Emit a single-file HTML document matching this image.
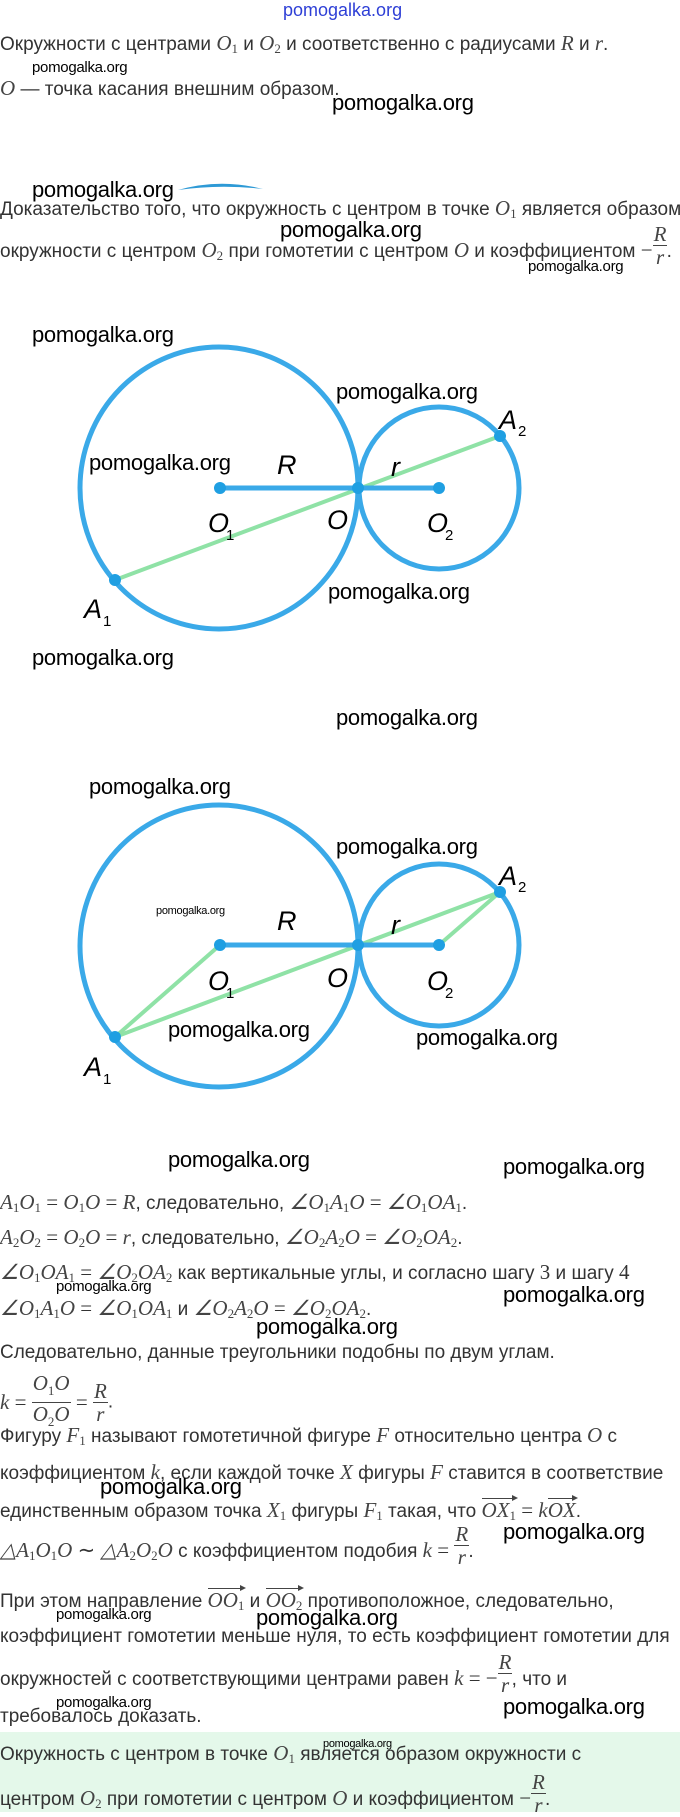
<!DOCTYPE html>
<html><head><meta charset="utf-8">
<style>
body{margin:0;width:680px;height:1812px;background:#fff;position:relative;overflow:hidden;font-family:"Liberation Sans",sans-serif;color:#333}
.t{position:absolute;left:0;white-space:nowrap;font-size:19px;line-height:24px;height:24px}
.m{font-family:"Liberation Serif",serif;font-style:italic;font-size:21px;color:#444}
.m sub{font-style:normal;font-size:13px;vertical-align:-3px}
.n{font-family:"Liberation Serif",serif;font-size:21px}
.w{position:absolute;white-space:nowrap;color:#000;font-family:"Liberation Sans",sans-serif;font-size:22px;line-height:22px;letter-spacing:-0.3px}
.ws{position:absolute;white-space:nowrap;color:#000;font-size:15px;line-height:14px;letter-spacing:-0.3px}
.fr{display:inline-block;vertical-align:middle;text-align:center;font-family:"Liberation Serif",serif;font-style:italic;font-size:21px;line-height:22px;color:#444}
.fr span{display:block}
.fr .top{border-bottom:1px solid #444;padding:0 1px}
.fw{display:inline-block;position:relative;width:14px;height:10px}
.fw .fr{position:absolute;left:0;top:-24px}
.vec{display:inline-block;position:relative;border-top:1px solid #444;padding-top:1px;line-height:20px}
.vec:after{content:"";position:absolute;right:-2px;top:-4px;border-left:6px solid #444;border-top:3.5px solid transparent;border-bottom:3.5px solid transparent}
</style></head><body>
<div style="position:absolute;left:283px;top:0;font-size:18px;color:#2e3fd6;font-family:'Liberation Sans',sans-serif">pomogalka.org</div>

<div class="t" style="top:31px">Окружности с центрами <span class="m">O<sub>1</sub></span> и <span class="m">O<sub>2</sub></span> и соответственно с радиусами <span class="m">R</span> и <span class="m">r</span>.</div>
<div class="ws" style="left:32px;top:61px">pomogalka.org</div>
<div class="t" style="top:76px"><span class="m">O</span> — точка касания внешним образом.</div>
<div class="w" style="left:332px;top:92px">pomogalka.org</div>

<div class="w" style="left:32px;top:179px">pomogalka.org</div>
<svg style="position:absolute;left:0;top:0" width="680" height="1812">
<path d="M178 190 Q220 178 263 189 Q220 184 178 190Z" fill="#2e9ad6"/>
</svg>
<div class="t" style="top:196px">Доказательство того, что окружность с центром в точке <span class="m">O<sub>1</sub></span> является образом</div>
<div class="w" style="left:280px;top:219px">pomogalka.org</div>
<div class="t" style="top:238px">окружности с центром <span class="m">O<sub>2</sub></span> при гомотетии с центром <span class="m">O</span> и коэффициентом <span class="n">−</span><span class="fw"><span class="fr"><span class="top">R</span><span>r</span></span></span>.</div>
<div class="ws" style="left:528px;top:260px">pomogalka.org</div>

<svg style="position:absolute;left:0;top:0" width="680" height="1812" font-family="Liberation Sans" font-style="italic">
<g fill="none" stroke="#3aa9e8" stroke-width="5">
<ellipse cx="219" cy="488" rx="139" ry="141"/>
<ellipse cx="439" cy="488" rx="80" ry="81"/>
</g>
<line x1="115" y1="580" x2="500" y2="436" stroke="#8fe2a6" stroke-width="4"/>
<line x1="220" y1="488" x2="439" y2="488" stroke="#3aa9e8" stroke-width="5"/>
<g fill="#1f9fe2"><circle cx="220" cy="488" r="6"/><circle cx="358" cy="488" r="6"/><circle cx="439" cy="488" r="6"/><circle cx="500" cy="436" r="6"/><circle cx="115" cy="580" r="6"/></g>
<g font-size="27" fill="#000">
<text x="277" y="474">R</text><text x="391" y="476">r</text>
<text x="208" y="532">O</text><text x="226" y="540" font-size="15" font-style="normal">1</text>
<text x="327" y="529">O</text>
<text x="427" y="532">O</text><text x="445" y="540" font-size="15" font-style="normal">2</text>
<text x="84" y="618">A</text><text x="103" y="626" font-size="15" font-style="normal">1</text>
<text x="499" y="429">A</text><text x="518" y="436" font-size="15" font-style="normal">2</text>
</g>

<g fill="none" stroke="#3aa9e8" stroke-width="5">
<ellipse cx="219" cy="946" rx="139" ry="141"/>
<ellipse cx="439" cy="945" rx="80" ry="81"/>
</g>
<g stroke="#8fe2a6" stroke-width="4">
<line x1="115" y1="1037" x2="500" y2="892"/>
<line x1="115" y1="1037" x2="220" y2="945"/>
<line x1="500" y1="892" x2="439" y2="945"/>
</g>
<line x1="220" y1="945" x2="439" y2="945" stroke="#3aa9e8" stroke-width="5"/>
<g fill="#1f9fe2"><circle cx="220" cy="945" r="6"/><circle cx="358" cy="945" r="6"/><circle cx="439" cy="945" r="6"/><circle cx="500" cy="892" r="6"/><circle cx="115" cy="1037" r="6"/></g>
<g font-size="27" fill="#000">
<text x="277" y="930">R</text><text x="391" y="934">r</text>
<text x="208" y="990">O</text><text x="226" y="998" font-size="15" font-style="normal">1</text>
<text x="327" y="987">O</text>
<text x="427" y="990">O</text><text x="445" y="998" font-size="15" font-style="normal">2</text>
<text x="84" y="1076">A</text><text x="103" y="1084" font-size="15" font-style="normal">1</text>
<text x="499" y="885">A</text><text x="518" y="892" font-size="15" font-style="normal">2</text>
</g>
</svg>
<div class="w" style="left:32px;top:324px">pomogalka.org</div>
<div class="w" style="left:336px;top:381px">pomogalka.org</div>
<div class="w" style="left:89px;top:452px">pomogalka.org</div>
<div class="w" style="left:328px;top:581px">pomogalka.org</div>
<div class="w" style="left:32px;top:647px">pomogalka.org</div>
<div class="w" style="left:336px;top:707px">pomogalka.org</div>

<div class="w" style="left:89px;top:776px">pomogalka.org</div>
<div class="w" style="left:336px;top:836px">pomogalka.org</div>
<div class="ws" style="left:156px;top:904px;font-size:11px">pomogalka.org</div>
<div class="w" style="left:168px;top:1019px">pomogalka.org</div>
<div class="w" style="left:416px;top:1027px">pomogalka.org</div>

<div class="w" style="left:168px;top:1149px">pomogalka.org</div>
<div class="w" style="left:503px;top:1156px">pomogalka.org</div>
<div class="t" style="top:1190px"><span class="m">A<sub>1</sub>O<sub>1</sub></span> <span class="n">=</span> <span class="m">O<sub>1</sub>O</span> <span class="n">=</span> <span class="m">R</span>, следовательно, <span class="m">∠O<sub>1</sub>A<sub>1</sub>O</span> <span class="n">=</span> <span class="m">∠O<sub>1</sub>OA<sub>1</sub></span>.</div>
<div class="t" style="top:1225px"><span class="m">A<sub>2</sub>O<sub>2</sub></span> <span class="n">=</span> <span class="m">O<sub>2</sub>O</span> <span class="n">=</span> <span class="m">r</span>, следовательно, <span class="m">∠O<sub>2</sub>A<sub>2</sub>O</span> <span class="n">=</span> <span class="m">∠O<sub>2</sub>OA<sub>2</sub></span>.</div>
<div class="t" style="top:1260px"><span class="m">∠O<sub>1</sub>OA<sub>1</sub></span> <span class="n">=</span> <span class="m">∠O<sub>2</sub>OA<sub>2</sub></span> как вертикальные углы, и согласно шагу <span class="n">3</span> и шагу <span class="n">4</span></div>
<div class="ws" style="left:56px;top:1280px">pomogalka.org</div>
<div class="w" style="left:503px;top:1284px">pomogalka.org</div>
<div class="t" style="top:1296px"><span class="m">∠O<sub>1</sub>A<sub>1</sub>O</span> <span class="n">=</span> <span class="m">∠O<sub>1</sub>OA<sub>1</sub></span> и <span class="m">∠O<sub>2</sub>A<sub>2</sub>O</span> <span class="n">=</span> <span class="m">∠O<sub>2</sub>OA<sub>2</sub></span>.</div>
<div class="w" style="left:256px;top:1316px">pomogalka.org</div>
<div class="t" style="top:1341px">Следовательно, данные треугольники подобны по двум углам.</div>
<div style="position:absolute;left:0;top:1372px;white-space:nowrap;font-size:19px"><span class="m" style="vertical-align:middle">k</span> <span class="n" style="vertical-align:middle">=</span> <div class="fr"><span class="top">O<sub style="font-size:13px;font-style:normal">1</sub>O</span><span>O<sub style="font-size:13px;font-style:normal">2</sub>O</span></div> <span class="n" style="vertical-align:middle">=</span> <div class="fr"><span class="top">R</span><span>r</span></div>.</div>
<div class="t" style="top:1423px">Фигуру <span class="m">F<sub>1</sub></span> называют гомотетичной фигуре <span class="m">F</span> относительно центра <span class="m">O</span> с</div>
<div class="t" style="top:1460px">коэффициентом <span class="m">k</span>, если каждой точке <span class="m">X</span> фигуры <span class="m">F</span> ставится в соответствие</div>
<div class="w" style="left:100px;top:1476px">pomogalka.org</div>
<div class="t" style="top:1498px">единственным образом точка <span class="m">X<sub>1</sub></span> фигуры <span class="m">F<sub>1</sub></span> такая, что <span class="m vec">OX<sub>1</sub></span> <span class="n">=</span> <span class="m">k</span><span class="m vec">OX</span>.</div>
<div class="t" style="top:1538px"><span class="m">△A<sub>1</sub>O<sub>1</sub>O</span> <span class="n">∼</span> <span class="m">△A<sub>2</sub>O<sub>2</sub>O</span> с коэффициентом подобия <span class="m">k</span> <span class="n">=</span> <span class="fw"><span class="fr"><span class="top">R</span><span>r</span></span></span>.</div>
<div class="w" style="left:503px;top:1521px">pomogalka.org</div>
<div class="t" style="top:1588px">При этом направление <span class="m vec">OO<sub>1</sub></span> и <span class="m vec">OO<sub>2</sub></span> противоположное, следовательно,</div>
<div class="ws" style="left:56px;top:1608px">pomogalka.org</div>
<div class="w" style="left:256px;top:1607px">pomogalka.org</div>
<div class="t" style="top:1625px">коэффициент гомотетии меньше нуля, то есть коэффициент гомотетии для</div>
<div class="t" style="top:1666px">окружностей с соответствующими центрами равен <span class="m">k</span> <span class="n">= −</span><span class="fw"><span class="fr"><span class="top">R</span><span>r</span></span></span>, что и</div>
<div class="ws" style="left:56px;top:1696px">pomogalka.org</div>
<div class="w" style="left:503px;top:1696px">pomogalka.org</div>
<div class="t" style="top:1705px">требовалось доказать.</div>

<div style="position:absolute;left:0;top:1732px;width:680px;height:80px;background:#e4f8ea"></div>
<div class="t" style="top:1741px">Окружность с центром в точке <span class="m">O<sub>1</sub></span> является образом окружности с</div>
<div class="ws" style="left:323px;top:1737px;font-size:11px">pomogalka.org</div>
<div class="t" style="top:1786px">центром <span class="m">O<sub>2</sub></span> при гомотетии с центром <span class="m">O</span> и коэффициентом <span class="n">−</span><span class="fw"><span class="fr"><span class="top">R</span><span>r</span></span></span>.</div>
</body></html>
